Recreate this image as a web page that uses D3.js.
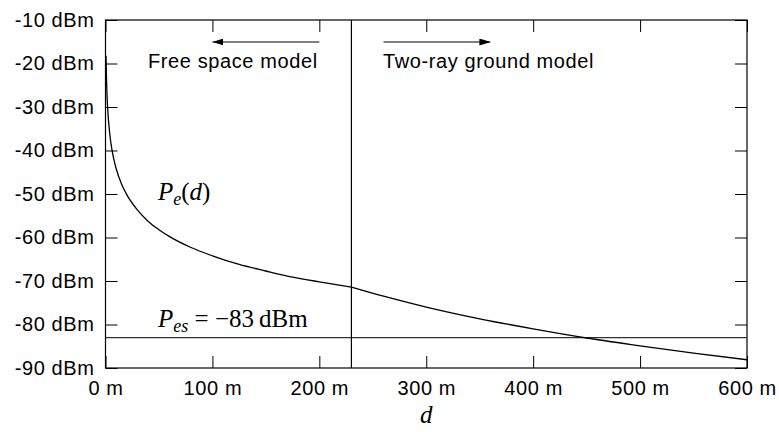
<!DOCTYPE html>
<html>
<head>
<meta charset="utf-8">
<script src="https://cdn.jsdelivr.net/npm/d3@7"></script>
<style>
  body { margin: 0; background: #fff; }
  .tick text { font-family: "Liberation Sans", Arial, sans-serif; font-size: 20px; letter-spacing: 0.6px; fill: #000; }
  .serif { font-family: "Liberation Serif", "Times New Roman", serif; }
</style>
</head>
<body>
<div id="chart-area"></div>
<script>
// distance (m) and received power (dBm)
var freeDist  = [0.5, 0.75, 1, 1.5, 2, 3, 5, 7.5, 10, 15, 20, 30, 40, 50, 60, 80, 100, 125, 150, 175, 200, 230];
var freePower = [-18.2, -21.7, -24.2, -27.7, -30.2, -33.7, -38.2, -41.7, -44.2, -47.7, -50.2, -53.7, -56.3, -58.2, -59.8, -62.3, -64.2, -66.2, -67.7, -69.1, -70.2, -71.4];
var twoRayDist  = [230, 260, 300, 350, 400, 450, 500, 550, 600];
var twoRayPower = [-71.4, -73.5, -76.0, -78.7, -81.0, -83.1, -84.9, -86.6, -88.1];

// crossover distance and sensitivity threshold
var crossover = 230;
var threshold = -83;

// tick values
var xTicks = [0, 100, 200, 300, 400, 500, 600];
var yTicks = [-90, -80, -70, -60, -50, -40, -30, -20, -10];

var W = 779, H = 432;
var pLeft = 105.5, pRight = 747, pTop = 20, pBottom = 368;

var svg = d3.select("#chart-area")
    .append("svg")
    .attr("width", W)
    .attr("height", H);

var x = d3.scaleLinear().domain([0, 600]).range([pLeft, pRight]);
var y = d3.scaleLinear().domain([-90, -10]).range([pBottom, pTop]);

// bottom axis (ticks pointing inward)
svg.append("g")
    .attr("transform", "translate(0," + pBottom + ")")
    .call(d3.axisBottom(x).tickValues(xTicks).tickSize(-12).tickPadding(13)
        .tickFormat(function (d) { return d + " m"; }));

// left axis
svg.append("g")
    .attr("transform", "translate(" + pLeft + ",0)")
    .call(d3.axisLeft(y).tickValues(yTicks).tickSize(-12).tickPadding(11)
        .tickFormat(function (d) { return d + " dBm"; }));

// mirrored ticks on top and right, no labels
svg.append("g")
    .attr("transform", "translate(0," + pTop + ")")
    .call(d3.axisTop(x).tickValues(xTicks).tickSize(-12).tickFormat(""));
svg.append("g")
    .attr("transform", "translate(" + pRight + ",0)")
    .call(d3.axisRight(y).tickValues(yTicks).tickSize(-12).tickFormat(""));

svg.selectAll(".domain").remove();
svg.selectAll(".tick line").attr("stroke", "#000");

// frame
svg.append("rect")
    .attr("x", pLeft)
    .attr("y", pTop)
    .attr("width", pRight - pLeft)
    .attr("height", pBottom - pTop)
    .attr("fill", "none")
    .attr("stroke", "#000")
    .attr("stroke-width", 1.2);

// threshold line
svg.append("line")
    .attr("x1", pLeft).attr("x2", pRight)
    .attr("y1", y(threshold)).attr("y2", y(threshold))
    .attr("stroke", "#333")
    .attr("stroke-width", 1.2);

// crossover line
svg.append("line")
    .attr("x1", x(crossover)).attr("x2", x(crossover))
    .attr("y1", pTop).attr("y2", pBottom)
    .attr("stroke", "#000")
    .attr("stroke-width", 1.2);

// the two curve pieces
var line = d3.line()
    .x(function (d) { return x(d[0]); })
    .y(function (d) { return y(d[1]); })
    .curve(d3.curveMonotoneX);

svg.append("path")
    .datum(d3.zip(freeDist, freePower))
    .attr("d", line)
    .attr("fill", "none")
    .attr("stroke", "#000")
    .attr("stroke-width", 1.3);

svg.append("path")
    .datum(d3.zip(twoRayDist, twoRayPower))
    .attr("d", line)
    .attr("fill", "none")
    .attr("stroke", "#000")
    .attr("stroke-width", 1.3);

// arrow heads
var defs = svg.append("defs");
defs.append("marker")
    .attr("id", "head")
    .attr("viewBox", "0 0 11 7")
    .attr("refX", 11).attr("refY", 3.5)
    .attr("markerWidth", 11).attr("markerHeight", 7)
    .attr("markerUnits", "userSpaceOnUse")
    .attr("orient", "auto")
    .append("path")
    .attr("d", "M0,0L11,3.5L0,7Z")
    .attr("fill", "#000");

var arrowY = 42;
svg.append("line")
    .attr("x1", x(200)).attr("x2", x(100))
    .attr("y1", arrowY).attr("y2", arrowY)
    .attr("stroke", "#000").attr("stroke-width", 1.2)
    .attr("marker-end", "url(#head)");
svg.append("line")
    .attr("x1", x(260)).attr("x2", x(360))
    .attr("y1", arrowY).attr("y2", arrowY)
    .attr("stroke", "#000").attr("stroke-width", 1.2)
    .attr("marker-end", "url(#head)");

// region labels
svg.append("text")
    .attr("x", 148).attr("y", 68)
    .style("font-family", "'Liberation Sans', Arial, sans-serif")
    .style("font-size", "20px")
    .style("letter-spacing", "0.6px")
    .text("Free space model");

svg.append("text")
    .attr("x", 383).attr("y", 68)
    .style("font-family", "'Liberation Sans', Arial, sans-serif")
    .style("font-size", "20px")
    .style("letter-spacing", "0.6px")
    .text("Two-ray ground model");

// curve label P_e(d)
var pe = svg.append("text")
    .attr("class", "serif")
    .attr("x", 158).attr("y", 200)
    .style("font-size", "25px");
pe.append("tspan").style("font-style", "italic").text("P");
pe.append("tspan").style("font-style", "italic").style("font-size", "18px").attr("dy", 5).text("e");
pe.append("tspan").attr("dy", -5).text("(");
pe.append("tspan").style("font-style", "italic").text("d");
pe.append("tspan").text(")");

// threshold label
var pes = svg.append("text")
    .attr("class", "serif")
    .attr("x", 158).attr("y", 327)
    .style("font-size", "25px");
pes.append("tspan").style("font-style", "italic").text("P");
pes.append("tspan").style("font-style", "italic").style("font-size", "18px").attr("dy", 5).text("es");
pes.append("tspan").attr("dy", -5).text(" = \u221283\u2009dBm");

// x axis label
svg.append("text")
    .attr("class", "serif")
    .attr("x", x(300))
    .attr("y", 423)
    .attr("text-anchor", "middle")
    .style("font-size", "25px")
    .style("font-style", "italic")
    .text("d");
</script>
</body>
</html>
